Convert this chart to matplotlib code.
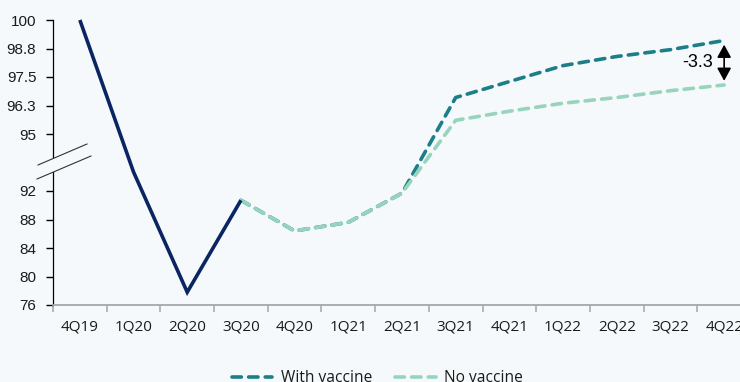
import numpy as np
import matplotlib
matplotlib.use("Agg")
import matplotlib.pyplot as plt
from matplotlib.patches import Polygon
from matplotlib.lines import Line2D

# --- DATA ---
quarters = ["4Q19", "1Q20", "2Q20", "3Q20", "4Q20", "1Q21", "2Q21",
            "3Q21", "4Q21", "1Q22", "2Q22", "3Q22", "4Q22"]
actual = [100, 93.0, 77.8, 90.7]                      # 4Q19 - 3Q20
with_vaccine = [90.7, 86.4, 87.6, 91.7, 96.6, 97.3,
                98.0, 98.4, 98.7, 99.1]               # 3Q20 - 4Q22
no_vaccine = [90.7, 86.4, 87.6, 91.7, 95.6, 96.0,
              96.35, 96.6, 96.9, 97.15]               # 3Q20 - 4Q22
gap_label = "-3.3"
y_ticks = [76, 80, 84, 88, 92, 95, 96.25, 97.5, 98.75, 100]
y_ticklabels = ["76", "80", "84", "88", "92", "95", "96.3", "97.5", "98.8", "100"]

# --- COLOURS ---
bg = "#F5F9FB"
navy = "#0B2563"
teal = "#1B7E88"
mint = "#97D4BC"


# broken axis: 76-92 normal, 95-100 stretched
def fwd(v):
    v = np.asarray(v, dtype=float)
    return np.where(v <= 92, v,
                    np.where(v < 95, 92 + (v - 92) * 8 / 3, 100 + (v - 95) * 3.2))


def inv(t):
    t = np.asarray(t, dtype=float)
    return np.where(t <= 92, t,
                    np.where(t < 100, 92 + (t - 92) * 3 / 8, 95 + (t - 100) / 3.2))


fig = plt.figure(figsize=(7.4, 3.82), dpi=100, facecolor=bg)
ax = fig.add_axes([53 / 740, 1 - 305 / 382, (751 - 53) / 740, (305 - 20) / 382])
ax.set_facecolor(bg)
ax.set_yscale("function", functions=(fwd, inv))

x = np.arange(len(quarters))
x_act = x[:len(actual)]
x_fc = x[len(actual) - 1:]

ax.plot(x_act, actual, color=navy, lw=2.6, solid_capstyle="butt",
        solid_joinstyle="miter", zorder=4, clip_on=False)
ax.plot(x_fc, with_vaccine, color=teal, lw=2.6, linestyle=(0, (2.6, 2.0)),
        dash_capstyle="round", label="With vaccine", zorder=3, clip_on=False)
ax.plot(x_fc, no_vaccine, color=mint, lw=2.6, linestyle=(0, (2.6, 2.0)),
        dash_capstyle="round", label="No vaccine", zorder=3.5, clip_on=False)

# gap annotation
ax.annotate("", xy=(x[-1], no_vaccine[-1]), xytext=(x[-1], with_vaccine[-1]),
            arrowprops=dict(arrowstyle="<|-|>,head_width=0.3,head_length=0.55",
                            color="black", lw=1.2, shrinkA=3, shrinkB=3,
                            mutation_scale=14), zorder=6)
mid = float(inv((fwd(with_vaccine[-1]) + fwd(no_vaccine[-1])) / 2))
ax.annotate(gap_label, xy=(x[-1], mid), xytext=(-8, 0), textcoords="offset points",
            ha="right", va="center", fontsize=13, family="Liberation Sans",
            color="black")

# axes
ax.set_xlim(-0.5, len(quarters) - 0.5)
ax.set_ylim(76, 100)
ax.set_yticks(y_ticks)
ax.set_yticklabels(y_ticklabels, family="Liberation Sans", fontsize=11, color="#1a1a1a")
ax.tick_params(axis="y", direction="out", length=5, width=1, color="black", pad=7)

ax.set_xticks(np.arange(-0.5, len(quarters), 1.0))
ax.set_xticklabels([])
ax.set_xticks(x, minor=True)
ax.set_xticklabels(quarters, minor=True, family="Open Sans", fontsize=11,
                   color="#1a1a1a")
ax.tick_params(axis="x", which="major", direction="out", length=5, width=1.1,
               color="#A6A6A6")
ax.tick_params(axis="x", which="minor", length=0, pad=10.5)

for s in ["top", "right"]:
    ax.spines[s].set_visible(False)
ax.spines["left"].set_color("black")
ax.spines["left"].set_linewidth(0.9)
ax.spines["bottom"].set_color("#A6A6A6")
ax.spines["bottom"].set_linewidth(1.3)


# axis break marks (figure pixels)
def fp(px, py):
    return (px / 740, 1 - py / 382)


brk = Polygon([fp(38, 165), fp(87, 144), fp(91, 156), fp(37, 179)],
              closed=True, facecolor=bg, edgecolor="none",
              transform=fig.transFigure, zorder=10)
fig.add_artist(brk)
for (a, b) in [((38, 165), (87, 144)), ((37, 179), (91, 156))]:
    p1, p2 = fp(*a), fp(*b)
    fig.add_artist(Line2D([p1[0], p2[0]], [p1[1], p2[1]], color="#333333",
                          lw=0.8, transform=fig.transFigure, zorder=11))

leg = fig.legend(loc="center", bbox_to_anchor=(0.51, 0.01), ncol=2, frameon=False,
                 prop={"family": "Open Sans", "size": 11.2}, handlelength=2.6,
                 handletextpad=0.55, columnspacing=1.5)
for t in leg.get_texts():
    t.set_color("#1a1a1a")

fig.savefig("out.png", dpi=100, facecolor=bg)
